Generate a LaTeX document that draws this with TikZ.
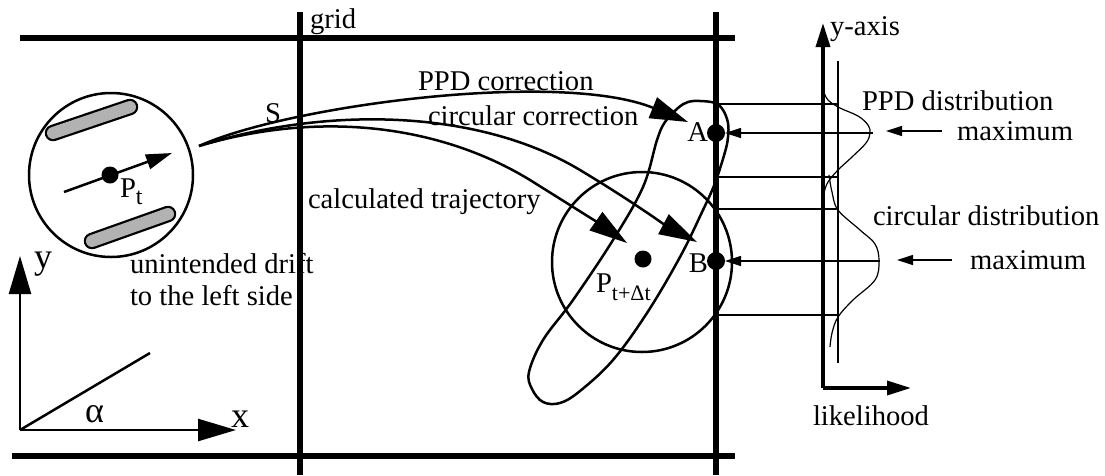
\documentclass[tikz,border=0pt]{standalone}
\usepackage{fontspec}
\setmainfont{Liberation Serif}
\usetikzlibrary{arrows.meta}
\begin{document}
\begin{tikzpicture}[x=1pt,y=-1pt,
  every node/.style={font=\fontsize{28.6}{32}\selectfont, inner sep=0pt, outer sep=0pt},
  gridline/.style={line width=5.5pt},
  contour/.style={line width=2.5pt},
  thinline/.style={line width=1.2pt},
  traj/.style={line width=2.5pt, -{Triangle[length=38pt,width=22pt]}},
  axisarrow/.style={line width=2.5pt, -{Triangle[length=38pt,width=22pt]}},
  plotaxis/.style={line width=3.5pt, -{Triangle[length=24pt,width=14pt]}},
  smallarrow/.style={line width=1.2pt, -{Triangle[length=16pt,width=10pt]}},
  dot/.style={circle, fill=black, minimum size=17pt, inner sep=0pt},
  bigfont/.style={font=\fontsize{36}{40}\selectfont},
  barfill/.style={line width=12pt, line cap=round, draw={rgb,255:red,178;green,178;blue,178}},
  baredge/.style={line width=16.5pt, line cap=round, draw=black}
]
\useasboundingbox (0,0) rectangle (1105,475);

% grid
\draw[gridline] (20,38) -- (735,38);
\draw[gridline] (12,456) -- (735,456);
\draw[gridline] (300,12) -- (300,475);
\draw[gridline] (716,12) -- (716,475);
\node[anchor=base west] (gridlbl) at (310,28) {grid};

% robot at P_t
\draw[contour] (111,175) circle[radius=82];
\draw[baredge] (53,133) -- (130,107);
\draw[barfill] (53,133) -- (130,107);
\draw[baredge] (92,241) -- (168,214);
\draw[barfill] (92,241) -- (168,214);
\coordinate (hdgS) at (64,192);
\coordinate (hdgE) at (172,153);
\draw[line width=2.5pt, -{Triangle[length=26pt,width=15pt]}] (hdgS) -- (hdgE);
\node[dot] (Pt) at (110,175) {};
\node[anchor=base west] (Ptlbl) at (120,197) {P\raisebox{-7pt}{\fontsize{24}{24}\selectfont t}};

% trajectories
\coordinate (S0) at (199,146);
\coordinate (tipPPD) at (688,122);
\coordinate (tipCirc) at (697,242);
\coordinate (tipCalc) at (627,243);
\node[anchor=base west] (Slbl) at (265,122) {S};
\draw[traj] (S0) .. controls (290,105) and (560,70) .. (tipPPD);
\draw[traj] (S0) .. controls (330,105) and (480,110) .. (580,170) .. controls (630,200) and (665,225) .. (tipCirc);
\draw[traj] (S0) .. controls (320,110) and (440,125) .. (530,180) .. controls (570,205) and (600,224) .. (tipCalc);
\node[anchor=base west] (ppdc) at (418,90) {PPD correction};
\node[anchor=base west] (circc) at (428,125) {circular correction};
\node[anchor=base west] (calct) at (308,208) {calculated trajectory};

% PPD blob
\draw[contour] plot[smooth cycle, tension=0.6] coordinates {
 (700,101) (715,103) (723,110) (728,123) (728,137) (725,152) (715,183)
 (703,210) (680,257) (647,313) (613,360) (580,391) (560,403) (543,402)
 (532,389) (529,372) (543,340) (573,300) (613,240) (643,187) (657,140)
 (665,122) (678,108) (688,102)};

% circular distribution
\draw[contour] (642,262) circle[radius=90];
\node[dot] (Pnext) at (643,259) {};
\node[anchor=base west] (Pnextlbl) at (596,292) {P\raisebox{-8pt}{\fontsize{22}{22}\selectfont t+Δt}};

% A and B
\node[dot, minimum size=18pt] (A) at (716,133) {};
\node[dot, minimum size=18pt] (B) at (716,261) {};
\node[anchor=base east] (Albl) at (708,141) {A};
\node[anchor=base east] (Blbl) at (708,272) {B};

% projection lines
\foreach \yy in {104,177,209,315} {
  \draw[thinline] (716,\yy) -- (839,\yy);
}
\coordinate (Aproj) at (873,133);
\coordinate (Bproj) at (880,261);
\draw[smallarrow] (Aproj) -- (A.east);
\draw[smallarrow] (Bproj) -- (B.east);

% likelihood plot
\coordinate (O2) at (823,388);
\coordinate (yaxTip) at (823,23);
\coordinate (lhTip) at (911,388);
\draw[plotaxis] (O2) -- (yaxTip);
\draw[plotaxis] (O2) -- (lhTip);
\draw[thinline] (838,61) -- (838,363);
\draw[thinline] plot[smooth, tension=0.6] coordinates {
 (823,90) (828,100) (840,108) (858,116) (868,125) (870,133) (866,143)
 (852,157) (838,170) (828,182) (824,193) (823,205)};
\draw[thinline] plot[smooth, tension=0.6] coordinates {
 (829,175) (832,192) (838,210) (860,230) (875,244) (879,261) (875,280)
 (853,300) (838,317) (832,333) (830,347)};
\node[anchor=base west] (yaxlbl) at (830,35) {y-axis};
\node[anchor=base west] (lhlbl) at (813,425) {likelihood};

\node[anchor=base west] (ppdd) at (862,110) {PPD distribution};
\node[anchor=base west] (max1) at (957,140) {maximum};
\node[anchor=base west] (circd) at (873,225) {circular distribution};
\node[anchor=base west] (max2) at (970,269) {maximum};
\coordinate (m1S) at (942,131);
\coordinate (m1E) at (886,131);
\coordinate (m2S) at (952,260);
\coordinate (m2E) at (897,260);
\draw[smallarrow] (m1S) -- (m1E);
\draw[smallarrow] (m2S) -- (m2E);

% drift text
\node[anchor=base west] (drift1) at (130,273) {unintended drift};
\node[anchor=base west] (drift2) at (130,305) {to the left side};

% coordinate frame
\coordinate (O) at (20,430);
\coordinate (yTip) at (20,256);
\coordinate (xTip) at (236,430);
\coordinate (dirEnd) at (150,353);
\draw[axisarrow] (O) -- (yTip);
\draw[axisarrow] (O) -- (xTip);
\draw[line width=2.5pt] (O) -- (dirEnd);
\node[anchor=base west, bigfont] (ylbl) at (34,268) {y};
\node[anchor=base west, bigfont] (xlbl) at (231,427) {x};
\node[anchor=base west, bigfont] (alpha) at (85,422) {α};
\end{tikzpicture}
\end{document}
